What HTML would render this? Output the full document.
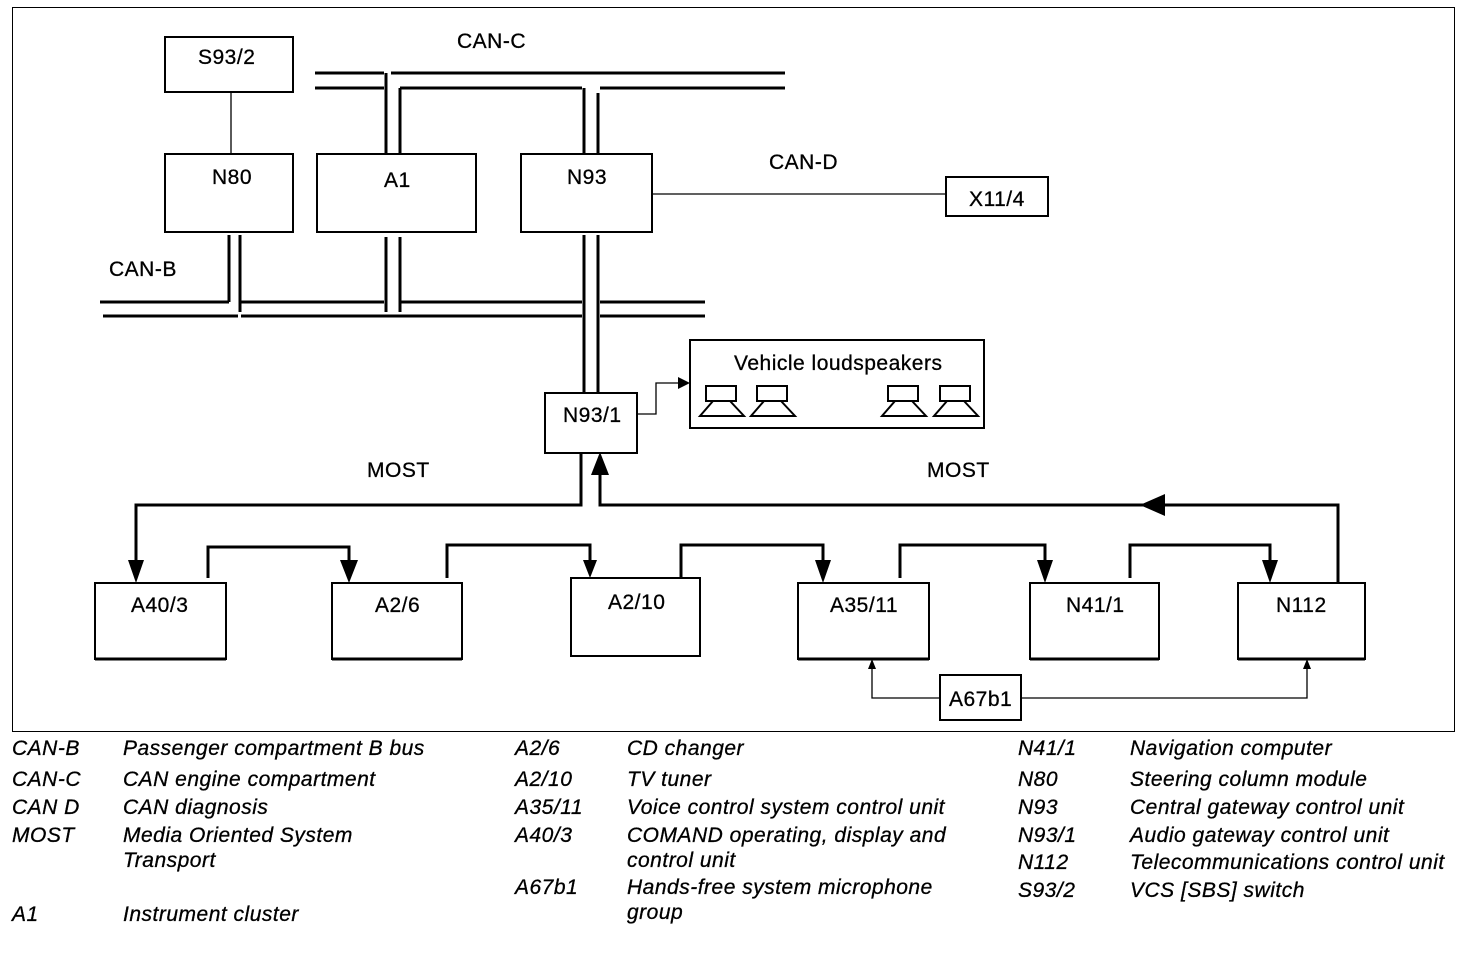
<!DOCTYPE html>
<html><head><meta charset="utf-8"><style>
body{margin:0;background:#fff;}
svg text{font-family:"Liberation Sans",sans-serif;font-size:21px;letter-spacing:0.5px;fill:#000;stroke:#000;stroke-width:0.3px;}
.lg{font-style:italic;}
</style></head><body>
<svg width="1472" height="950" xmlns="http://www.w3.org/2000/svg">
<rect x="12.5" y="7.5" width="1442" height="724" fill="none" stroke="#000" stroke-width="1"/>
<g fill="none" stroke="#000" stroke-width="2">
<rect x="165" y="37" width="128" height="55"/>
<rect x="165" y="154" width="128" height="78"/>
<rect x="317" y="154" width="159" height="78"/>
<rect x="521" y="154" width="131" height="78"/>
<rect x="946" y="177" width="102" height="39"/>
<rect x="545" y="393" width="92" height="60"/>
<rect x="690" y="340" width="294" height="88"/>
<rect x="95" y="583" width="131" height="76"/>
<rect x="332" y="583" width="130" height="76"/>
<rect x="571" y="578" width="129" height="78"/>
<rect x="798" y="583" width="131" height="76"/>
<rect x="1030" y="583" width="129" height="76"/>
<rect x="1238" y="583" width="127" height="76"/>
<rect x="940" y="675" width="81" height="45"/>
</g>
<g stroke="#000" stroke-width="3">
<line x1="95" y1="659" x2="226" y2="659"/><line x1="332" y1="659" x2="462" y2="659"/>
<line x1="798" y1="659" x2="929" y2="659"/><line x1="1030" y1="659" x2="1159" y2="659"/>
<line x1="1238" y1="659" x2="1365" y2="659"/>
</g>
<g stroke="#000" stroke-width="3" fill="none">
<line x1="315" y1="73" x2="384" y2="73"/><line x1="391" y1="73" x2="785" y2="73"/>
<line x1="315" y1="88" x2="384" y2="88"/><line x1="400" y1="88" x2="582" y2="88"/><line x1="600" y1="88" x2="785" y2="88"/>
<line x1="386" y1="73" x2="386" y2="154"/><line x1="400" y1="88" x2="400" y2="154"/>
<line x1="584" y1="88" x2="584" y2="154"/><line x1="598" y1="93" x2="598" y2="154"/>
<line x1="100" y1="302" x2="229" y2="302"/><line x1="241" y1="302" x2="384" y2="302"/><line x1="400" y1="302" x2="582" y2="302"/><line x1="600" y1="302" x2="705" y2="302"/>
<line x1="103" y1="316" x2="238" y2="316"/><line x1="241" y1="316" x2="582" y2="316"/><line x1="600" y1="316" x2="705" y2="316"/>
<line x1="229" y1="235" x2="229" y2="302"/><line x1="240" y1="235" x2="240" y2="312"/>
<line x1="386" y1="237" x2="386" y2="312"/><line x1="400" y1="237" x2="400" y2="312"/>
<line x1="584" y1="235" x2="584" y2="393"/><line x1="598" y1="235" x2="598" y2="393"/>
</g>
<g stroke="#000" stroke-width="1.3" fill="none">
<line x1="231" y1="92" x2="231" y2="154"/>
<line x1="652" y1="194" x2="946" y2="194"/>
<polyline points="637,414 656,414 656,383 680,383"/>
<polyline points="940,698 872,698 872,668"/>
<polyline points="1021,698 1307,698 1307,668"/>
</g>
<path d="M678,377 L690,383 L678,389 z"/>
<path d="M868,669 L872,659 L876,669 z"/><path d="M1303,669 L1307,659 L1311,669 z"/>
<g stroke="#000" stroke-width="3" fill="none">
<polyline points="581,453 581,505 136,505 136,570"/>
<polyline points="1338,583 1338,505 600,505 600,470"/>
<polyline points="208,578 208,547 349,547 349,570"/>
<polyline points="447,578 447,545 590,545 590,567"/>
<polyline points="681,578 681,545 823,545 823,570"/>
<polyline points="900,578 900,545 1045,545 1045,570"/>
<polyline points="1130,578 1130,545 1270,545 1270,570"/>
</g>
<path d="M128,560 L144,560 L136,583 z"/>
<path d="M340,560 L358,560 L349,583 z"/>
<path d="M583,560 L597,560 L590,578 z"/>
<path d="M815,560 L831,560 L823,583 z"/>
<path d="M1037,560 L1053,560 L1045,583 z"/>
<path d="M1262,560 L1278,560 L1270,583 z"/>
<path d="M591,475 L609,475 L600,452 z"/>
<path d="M1165,494 L1165,516 L1140,505 z"/>
<g stroke="#000" stroke-width="2" fill="none">
<rect x="706" y="386" width="30" height="15"/><path d="M713,401 L700,416 L744,416 L730,401"/>
<rect x="757" y="386" width="30" height="15"/><path d="M764,401 L751,416 L795,416 L781,401"/>
<rect x="888" y="386" width="30" height="15"/><path d="M895,401 L882,416 L926,416 L912,401"/>
<rect x="940" y="386" width="30" height="15"/><path d="M947,401 L934,416 L978,416 L964,401"/>
</g>
<text x="198" y="64">S93/2</text>
<text x="212" y="184">N80</text>
<text x="384" y="187">A1</text>
<text x="567" y="184">N93</text>
<text x="969" y="206">X11/4</text>
<text x="563" y="422">N93/1</text>
<text x="734" y="370">Vehicle loudspeakers</text>
<text x="457" y="48">CAN-C</text>
<text x="769" y="169">CAN-D</text>
<text x="109" y="276">CAN-B</text>
<text x="367" y="477">MOST</text>
<text x="927" y="477">MOST</text>
<text x="131" y="612">A40/3</text>
<text x="375" y="612">A2/6</text>
<text x="608" y="609">A2/10</text>
<text x="830" y="612">A35/11</text>
<text x="1066" y="612">N41/1</text>
<text x="1276" y="612">N112</text>
<text x="949" y="706">A67b1</text>
<text class="lg" x="12" y="755">CAN-B</text><text class="lg" x="123" y="755">Passenger compartment B bus</text>
<text class="lg" x="12" y="786">CAN-C</text><text class="lg" x="123" y="786">CAN engine compartment</text>
<text class="lg" x="12" y="814">CAN D</text><text class="lg" x="123" y="814">CAN diagnosis</text>
<text class="lg" x="12" y="842">MOST</text><text class="lg" x="123" y="842">Media Oriented System</text>
<text class="lg" x="123" y="867">Transport</text>
<text class="lg" x="12" y="921">A1</text><text class="lg" x="123" y="921">Instrument cluster</text>
<text class="lg" x="515" y="755">A2/6</text><text class="lg" x="627" y="755">CD changer</text>
<text class="lg" x="515" y="786">A2/10</text><text class="lg" x="627" y="786">TV tuner</text>
<text class="lg" x="515" y="814">A35/11</text><text class="lg" x="627" y="814">Voice control system control unit</text>
<text class="lg" x="515" y="842">A40/3</text><text class="lg" x="627" y="842">COMAND operating, display and</text>
<text class="lg" x="627" y="867">control unit</text>
<text class="lg" x="515" y="894">A67b1</text><text class="lg" x="627" y="894">Hands-free system microphone</text>
<text class="lg" x="627" y="919">group</text>
<text class="lg" x="1018" y="755">N41/1</text><text class="lg" x="1130" y="755">Navigation computer</text>
<text class="lg" x="1018" y="786">N80</text><text class="lg" x="1130" y="786">Steering column module</text>
<text class="lg" x="1018" y="814">N93</text><text class="lg" x="1130" y="814">Central gateway control unit</text>
<text class="lg" x="1018" y="842">N93/1</text><text class="lg" x="1130" y="842">Audio gateway control unit</text>
<text class="lg" x="1018" y="869">N112</text><text class="lg" x="1130" y="869">Telecommunications control unit</text>
<text class="lg" x="1018" y="897">S93/2</text><text class="lg" x="1130" y="897">VCS [SBS] switch</text>
</svg>
</body></html>
